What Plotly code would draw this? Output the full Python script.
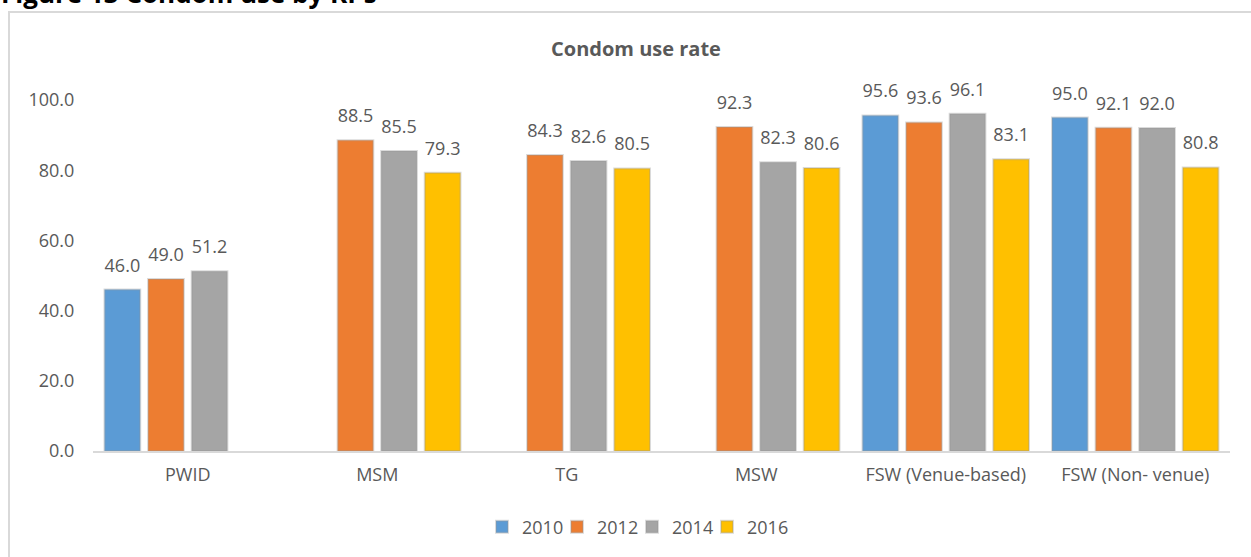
import plotly.graph_objects as go

categories = ["PWID", "MSM", "TG", "MSW", "FSW (Venue-based)", "FSW (Non- venue)"]
years = ["2010", "2012", "2014", "2016"]
v2010 = [46.0, None, None, None, 95.6, 95.0]
v2012 = [49.0, 88.5, 84.3, 92.3, 93.6, 92.1]
v2014 = [51.2, 85.5, 82.6, 82.3, 96.1, 92.0]
v2016 = [None, 79.3, 80.5, 80.6, 83.1, 80.8]
series = [v2010, v2012, v2014, v2016]
colors = ["#5B9BD5", "#ED7D31", "#A5A5A5", "#FFC000"]

FONT = "Open Sans"
GREY = "#595959"

W, H = 1251, 557
L, R, T, B = 93, 21, 100, 106
PW, PH = W - L - R, H - T - B

def px_x(p):
    return (p - L) / PW

def px_y(p):
    return (H - B - p) / PH

fig = go.Figure()
for name, vals, col in zip(years, series, colors):
    fig.add_trace(go.Bar(
        x=categories, y=vals, name=name,
        marker=dict(color=col, line=dict(color="rgba(150,150,150,0.35)", width=2)),
        hoverinfo="skip",
    ))
for name, vals in zip(years, series):
    fig.add_trace(go.Scatter(
        x=categories, y=vals, mode="markers+text",
        marker=dict(size=20, opacity=0),
        texttemplate="%{y:.1f}", textposition="top center",
        textfont=dict(family=FONT, size=18, color=GREY),
        showlegend=False, hoverinfo="skip", cliponaxis=False,
    ))
# empty legend spacer so the last legend label is not clipped
fig.add_trace(go.Scatter(
    x=[categories[0]], y=[0], name=" ", mode="markers",
    marker=dict(color="rgba(0,0,0,0)"), visible="legendonly", hoverinfo="skip",
))

fig.update_layout(
    width=W, height=H,
    margin=dict(l=L, r=R, t=T, b=B),
    paper_bgcolor="white", plot_bgcolor="white",
    barmode="group", bargap=0.08, bargroupgap=0.18,
    scattermode="group", scattergap=0.08,
    font=dict(family=FONT, size=18, color=GREY),
    showlegend=True,
    legend=dict(orientation="h", x=px_x(482), xanchor="left",
                y=px_y(527), yanchor="middle",
                font=dict(family=FONT, size=18, color=GREY),
                itemwidth=30, entrywidth=30, traceorder="normal",
                itemclick=False, itemdoubleclick=False),
    xaxis=dict(showgrid=False, showline=True, linecolor="#D9D9D9", linewidth=2,
               ticks="outside", ticklen=6, tickcolor="rgba(0,0,0,0)",
               tickfont=dict(family=FONT, size=18, color=GREY), zeroline=False),
    yaxis=dict(range=[0, 100], dtick=20, tickformat=".1f", showgrid=False,
               showline=False, zeroline=False, ticks="outside", ticklen=14,
               tickcolor="rgba(0,0,0,0)",
               tickfont=dict(family=FONT, size=18, color=GREY)),
    shapes=[dict(type="rect", xref="paper", yref="paper",
                 x0=px_x(9), x1=px_x(W + 20), y0=px_y(H + 20), y1=px_y(12),
                 line=dict(color="#D9D9D9", width=2), fillcolor="rgba(0,0,0,0)",
                 layer="below")],
    annotations=[
        dict(text="<b>Figure 13 Condom use by KPs</b>", xref="paper", yref="paper",
             x=px_x(-1), y=px_y(13), xanchor="left", yanchor="bottom",
             showarrow=False, font=dict(family=FONT, size=26, color="black")),
        dict(text="<b>Condom use rate</b>", xref="paper", yref="paper",
             x=px_x(636), y=px_y(48), xanchor="center", yanchor="middle",
             showarrow=False, font=dict(family=FONT, size=20, color=GREY)),
    ],
)

fig.write_html("out.html")
